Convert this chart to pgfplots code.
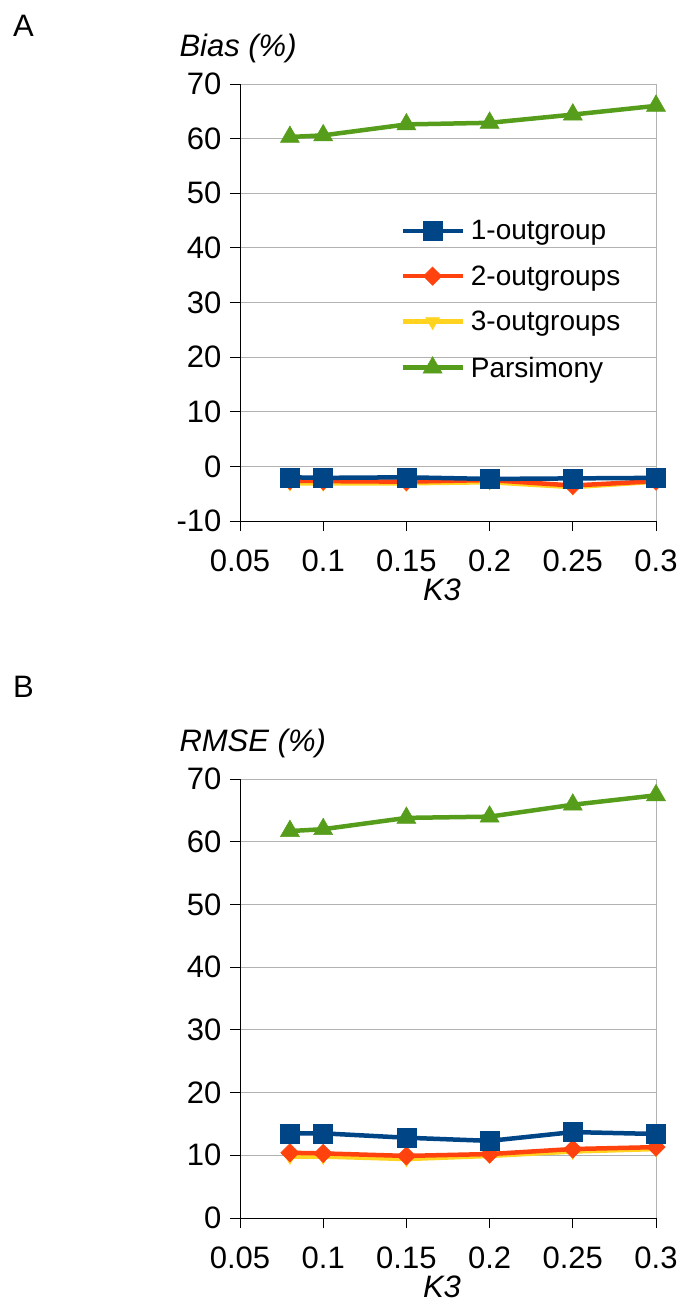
\documentclass[border=0pt]{standalone}
\usepackage{fontspec}
\setmainfont{Liberation Sans}
\usepackage{pgfplots}
\pgfplotsset{compat=1.18}
\definecolor{c1}{HTML}{004586}
\definecolor{c2}{HTML}{FF420E}
\definecolor{c3}{HTML}{FFD320}
\definecolor{c4}{HTML}{579D1C}
\pgfplotsset{
  panel/.style={
    scale only axis, width=416pt,
    xmin=0.05, xmax=0.3,
    xtick={0.05,0.1,0.15,0.2,0.25,0.3},
    xticklabels={0.05,0.1,0.15,0.2,0.25,0.3},
    axis x line*=bottom, axis y line*=left,
    tick align=outside, major tick length=10pt,
    tick style={black, line width=0.8pt},
    axis line style={black, line width=0.8pt},
    ymajorgrids, grid style={black!30, line width=0.8pt},
    /pgf/number format/assume math mode=true,
    tick label style={font=\fontsize{31}{36}\selectfont},
    xticklabel style={yshift=-15pt},
    yticklabel style={xshift=-5pt},
    every axis x label/.style={at={(rel axis cs:0.5,0)}, anchor=base, yshift=-79pt, xshift=-6pt, font=\fontsize{31}{36}\selectfont\itshape},
    every axis y label/.style={at={(rel axis cs:0,1)}, anchor=base west, yshift=28pt, xshift=-64pt, font=\fontsize{31}{36}\selectfont\itshape},
    xlabel={K3},
    clip=false,
  },
  s1/.style={c1, line width=4.5pt, mark=square*, mark size=9.5pt, mark options={solid, fill=c1, draw=c1, line width=0.5pt}},
  s2/.style={c2, line width=4.5pt, mark=square*, mark size=6.5pt, mark options={solid, rotate=45, fill=c2, draw=c2, line width=0.5pt}},
  s3/.style={c3, line width=4.5pt, mark=triangle*, mark size=8pt, mark options={solid, rotate=180, fill=c3, draw=c3, line width=0.5pt}},
  s4/.style={c4, line width=4.5pt, mark=triangle*, mark size=11pt, mark options={solid, fill=c4, draw=c4, line width=0.5pt}},
}
\begin{document}
\begin{tikzpicture}
\path[use as bounding box] (0,0) rectangle (680pt,-1302pt);
\node[anchor=base west, inner sep=0, font=\fontsize{31}{36}\selectfont] at (13pt,-36pt) {A};
\node[anchor=base west, inner sep=0, font=\fontsize{31}{36}\selectfont] at (13pt,-697pt) {B};

\begin{axis}[panel, at={(240pt,-84pt)}, anchor=north west, height=437pt,
  ymin=-10, ymax=70, ytick={-10,0,10,20,30,40,50,60,70},
  ylabel={Bias (\%)},
  reverse legend,
  legend style={at={(rel axis cs:0.385,0.693)}, anchor=north west, draw=none, fill=none,
    font=\fontsize{28}{32}\selectfont, row sep=20.5pt, inner sep=0pt,
    /tikz/every odd column/.append style={column sep=4pt}},
  legend cell align=left,
  legend image code/.code={\draw[mark repeat=2,mark phase=2,#1] plot coordinates {(0pt,0pt) (30pt,0pt) (60pt,0pt)};},
]
\draw[black!30, line width=0.8pt] (rel axis cs:1,0) -- (rel axis cs:1,1);
\addplot[s4] coordinates {(0.08,60.3) (0.1,60.6) (0.15,62.6) (0.2,62.9) (0.25,64.4) (0.3,66.0)};
\addlegendentry{Parsimony}
\addplot[s3] coordinates {(0.08,-3.1) (0.1,-3.1) (0.15,-3.1) (0.2,-2.9) (0.25,-3.8) (0.3,-2.8)};
\addlegendentry{3-outgroups}
\addplot[s2] coordinates {(0.08,-2.6) (0.1,-2.7) (0.15,-2.8) (0.2,-2.5) (0.25,-3.5) (0.3,-2.7)};
\addlegendentry{2-outgroups}
\addplot[s1] coordinates {(0.08,-2.0) (0.1,-2.1) (0.15,-2.0) (0.2,-2.3) (0.25,-2.2) (0.3,-2.1)};
\addlegendentry{1-outgroup}
\end{axis}

\begin{axis}[panel, at={(240pt,-779pt)}, anchor=north west, height=439pt,
  ymin=0, ymax=70, ytick={0,10,20,30,40,50,60,70},
  ylabel={RMSE (\%)},
]
\draw[black!30, line width=0.8pt] (rel axis cs:1,0) -- (rel axis cs:1,1);
\addplot[s4] coordinates {(0.08,61.7) (0.1,62.0) (0.15,63.8) (0.2,64.0) (0.25,65.9) (0.3,67.4)};
\addplot[s3] coordinates {(0.08,9.8) (0.1,9.8) (0.15,9.4) (0.2,9.9) (0.25,10.6) (0.3,11.0)};
\addplot[s2] coordinates {(0.08,10.4) (0.1,10.3) (0.15,9.9) (0.2,10.2) (0.25,11.0) (0.3,11.3)};
\addplot[s1] coordinates {(0.08,13.5) (0.1,13.5) (0.15,12.8) (0.2,12.3) (0.25,13.7) (0.3,13.4)};
\end{axis}
\end{tikzpicture}
\end{document}
